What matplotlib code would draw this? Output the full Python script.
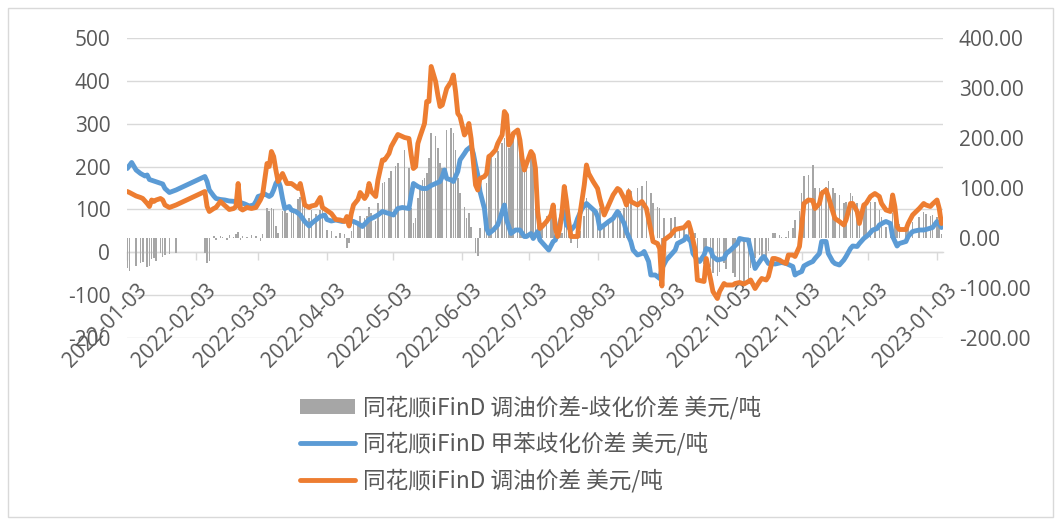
import matplotlib
matplotlib.use("Agg")
import matplotlib.pyplot as plt
import matplotlib.dates as mdates
from matplotlib.patches import Patch, Rectangle
from matplotlib.lines import Line2D
from matplotlib.ticker import FormatStrFormatter
import pandas as pd

plt.rcParams['font.family'] = ['Open Sans', 'Noto Sans CJK SC', 'DejaVu Sans']
plt.rcParams['axes.unicode_minus'] = False

# ---------------- data ----------------
blue_dates = [
    '2022-01-03', '2022-01-05', '2022-01-07', '2022-01-09', '2022-01-11', '2022-01-12', '2022-01-13',
    '2022-01-15', '2022-01-17', '2022-01-19', '2022-01-20', '2022-01-22', '2022-01-25',
    '2022-02-07', '2022-02-08', '2022-02-09', '2022-02-11', '2022-02-12', '2022-02-14', '2022-02-16',
    '2022-02-18', '2022-02-21', '2022-02-23', '2022-02-25', '2022-02-27',
    '2022-03-01', '2022-03-02', '2022-03-03', '2022-03-05', '2022-03-06', '2022-03-08', '2022-03-09',
    '2022-03-10', '2022-03-11', '2022-03-12', '2022-03-13', '2022-03-14', '2022-03-15', '2022-03-17',
    '2022-03-18', '2022-03-20', '2022-03-22', '2022-03-24', '2022-03-26', '2022-03-27', '2022-03-29',
    '2022-03-31',
    '2022-04-02', '2022-04-03', '2022-04-05', '2022-04-07', '2022-04-10', '2022-04-12', '2022-04-15',
    '2022-04-17', '2022-04-19', '2022-04-22', '2022-04-24', '2022-04-26', '2022-04-28',
    '2022-05-01', '2022-05-03', '2022-05-04', '2022-05-05', '2022-05-07', '2022-05-10', '2022-05-11',
    '2022-05-12', '2022-05-14', '2022-05-16', '2022-05-18', '2022-05-20', '2022-05-22', '2022-05-24',
    '2022-05-25', '2022-05-26', '2022-05-27', '2022-05-29', '2022-05-30',
    '2022-06-01', '2022-06-02', '2022-06-04', '2022-06-05', '2022-06-07', '2022-06-08', '2022-06-09',
    '2022-06-10', '2022-06-11', '2022-06-13', '2022-06-14', '2022-06-15', '2022-06-17', '2022-06-19',
    '2022-06-20', '2022-06-21', '2022-06-22', '2022-06-23', '2022-06-25', '2022-06-27', '2022-06-29',
    '2022-07-01', '2022-07-02', '2022-07-04', '2022-07-05', '2022-07-07', '2022-07-08', '2022-07-10',
    '2022-07-12', '2022-07-14', '2022-07-15', '2022-07-16', '2022-07-18', '2022-07-19', '2022-07-20',
    '2022-07-22', '2022-07-24', '2022-07-25', '2022-07-27', '2022-07-29', '2022-07-31',
    '2022-08-02', '2022-08-03', '2022-08-04', '2022-08-06', '2022-08-08', '2022-08-10', '2022-08-12',
    '2022-08-13', '2022-08-15', '2022-08-16', '2022-08-18', '2022-08-19', '2022-08-21', '2022-08-23',
    '2022-08-24', '2022-08-26', '2022-08-27', '2022-08-29', '2022-08-31',
    '2022-09-01', '2022-09-03', '2022-09-05', '2022-09-07', '2022-09-08', '2022-09-11', '2022-09-12',
    '2022-09-14', '2022-09-15', '2022-09-17', '2022-09-18', '2022-09-20', '2022-09-21', '2022-09-23',
    '2022-09-24', '2022-09-26', '2022-09-29', '2022-09-30',
    '2022-10-02', '2022-10-05', '2022-10-06', '2022-10-08', '2022-10-10', '2022-10-11', '2022-10-13',
    '2022-10-14', '2022-10-16', '2022-10-17', '2022-10-19', '2022-10-20', '2022-10-22', '2022-10-23',
    '2022-10-25', '2022-10-27', '2022-10-30', '2022-10-31',
    '2022-11-01', '2022-11-03', '2022-11-04', '2022-11-06', '2022-11-08', '2022-11-09', '2022-11-11',
    '2022-11-12', '2022-11-14', '2022-11-15', '2022-11-17', '2022-11-18', '2022-11-20', '2022-11-22',
    '2022-11-23', '2022-11-25', '2022-11-26', '2022-11-28', '2022-11-29',
    '2022-12-01', '2022-12-03', '2022-12-05', '2022-12-07', '2022-12-08', '2022-12-10', '2022-12-11',
    '2022-12-13', '2022-12-14', '2022-12-16', '2022-12-17', '2022-12-20', '2022-12-21', '2022-12-23',
    '2022-12-26', '2022-12-28', '2022-12-29',
    '2023-01-01', '2023-01-03', '2023-01-05',
]
blue_vals = [
    139, 151, 136, 129, 124, 126, 117, 114, 111, 108, 99, 91, 96,
    123, 113, 96, 84, 79, 77, 76, 74, 73, 71, 68, 64,
    66, 73, 83, 86, 88, 83, 86, 96, 109, 116, 103, 79, 59, 63, 56, 53, 46, 33, 24, 29, 36, 43,
    46, 37, 34, 36, 33, 36, 33, 29, 23, 37, 41, 46, 53,
    49, 46, 53, 59, 61, 59, 86, 109, 103, 99, 99, 105, 109, 113, 123, 136, 119, 116, 113,
    133, 156, 169, 176, 183, 169, 146, 126, 93, 59, 19, 9, 16, 26, 39, 53, 66, 36, 9, 16, 16,
    3, 3, 9, -1, 13, -4, -14, -24, -7, -4, 13, 46, 53, 26, 16, 26, 39, 59, 69, 61,
    53, 43, 19, 26, 33, 39, 53, 46, 29, 13, -7, -24, -34, -31, -27, -47, -74, -74, -81,
    -61, -44, -34, -24, -11, -4, 3, -7, -31, -44, -47, -34, -21, -24, -37, -44, -41, -31,
    -24, -11, -1, -3, -4, -24, -61, -54, -41, -37, -51, -51, -52, -51, -49, -51, -57, -74,
    -71, -67, -56, -51, -47, -41, -31, -7, -7, -31, -47, -51, -54, -44, -37, -21, -16, -17, -11,
    -1, 6, 16, 19, 26, 31, 33, 29, 3, -16, -11, -7, 3, 13, 16, 16, 17,
    21, 33, 21,
]

orange_dates = [
    '2022-01-03', '2022-01-04', '2022-01-07', '2022-01-09', '2022-01-10', '2022-01-12', '2022-01-13',
    '2022-01-14', '2022-01-15', '2022-01-16', '2022-01-18', '2022-01-19', '2022-01-20', '2022-01-22',
    '2022-01-25',
    '2022-02-07', '2022-02-08', '2022-02-09', '2022-02-11', '2022-02-12', '2022-02-14', '2022-02-15',
    '2022-02-17', '2022-02-18', '2022-02-20', '2022-02-21', '2022-02-22', '2022-02-23', '2022-02-24',
    '2022-02-26', '2022-02-28',
    '2022-03-02', '2022-03-04', '2022-03-05', '2022-03-07', '2022-03-08', '2022-03-09', '2022-03-10',
    '2022-03-11', '2022-03-12', '2022-03-14', '2022-03-15', '2022-03-16', '2022-03-18', '2022-03-19',
    '2022-03-21', '2022-03-22', '2022-03-23', '2022-03-24', '2022-03-26', '2022-03-27', '2022-03-29',
    '2022-03-31',
    '2022-04-01', '2022-04-03', '2022-04-05', '2022-04-07', '2022-04-09', '2022-04-11', '2022-04-12',
    '2022-04-13', '2022-04-14', '2022-04-15', '2022-04-17', '2022-04-18', '2022-04-20', '2022-04-21',
    '2022-04-22', '2022-04-23', '2022-04-25', '2022-04-26', '2022-04-28', '2022-04-29',
    '2022-05-01', '2022-05-02', '2022-05-04', '2022-05-05', '2022-05-08', '2022-05-10', '2022-05-11',
    '2022-05-12', '2022-05-13', '2022-05-14', '2022-05-15', '2022-05-16', '2022-05-17', '2022-05-18',
    '2022-05-19', '2022-05-20', '2022-05-22', '2022-05-23', '2022-05-24', '2022-05-25', '2022-05-27',
    '2022-05-29', '2022-05-30', '2022-05-31',
    '2022-06-01', '2022-06-02', '2022-06-04', '2022-06-05', '2022-06-06', '2022-06-07', '2022-06-09',
    '2022-06-10', '2022-06-11', '2022-06-13', '2022-06-14', '2022-06-15', '2022-06-16', '2022-06-18',
    '2022-06-19', '2022-06-21', '2022-06-22', '2022-06-23', '2022-06-24', '2022-06-25', '2022-06-26',
    '2022-06-28', '2022-06-29', '2022-06-30',
    '2022-07-01', '2022-07-02', '2022-07-04', '2022-07-05', '2022-07-06', '2022-07-07', '2022-07-08',
    '2022-07-09', '2022-07-11', '2022-07-13', '2022-07-14', '2022-07-15', '2022-07-16', '2022-07-17',
    '2022-07-18', '2022-07-19', '2022-07-20', '2022-07-21', '2022-07-22', '2022-07-25', '2022-07-26',
    '2022-07-28', '2022-07-29', '2022-07-30',
    '2022-08-01', '2022-08-03', '2022-08-04', '2022-08-06', '2022-08-08', '2022-08-10', '2022-08-12',
    '2022-08-13', '2022-08-15', '2022-08-16', '2022-08-17', '2022-08-18', '2022-08-21', '2022-08-23',
    '2022-08-25', '2022-08-27', '2022-08-28', '2022-08-30', '2022-08-31',
    '2022-09-01', '2022-09-02', '2022-09-05', '2022-09-07', '2022-09-09', '2022-09-11', '2022-09-13',
    '2022-09-14', '2022-09-16', '2022-09-17', '2022-09-20', '2022-09-21', '2022-09-23', '2022-09-24',
    '2022-09-26', '2022-09-27', '2022-09-29', '2022-09-30',
    '2022-10-03', '2022-10-04', '2022-10-06', '2022-10-08', '2022-10-10', '2022-10-11', '2022-10-13',
    '2022-10-15', '2022-10-16', '2022-10-18', '2022-10-19', '2022-10-21', '2022-10-22', '2022-10-24',
    '2022-10-25', '2022-10-27', '2022-10-28', '2022-10-30', '2022-10-31',
    '2022-11-02', '2022-11-03', '2022-11-04', '2022-11-06', '2022-11-08', '2022-11-09', '2022-11-11',
    '2022-11-12', '2022-11-14', '2022-11-15', '2022-11-17', '2022-11-18', '2022-11-20', '2022-11-22',
    '2022-11-23', '2022-11-25', '2022-11-26', '2022-11-28', '2022-11-29',
    '2022-12-01', '2022-12-02', '2022-12-04', '2022-12-06', '2022-12-08', '2022-12-09', '2022-12-11',
    '2022-12-13', '2022-12-14', '2022-12-15', '2022-12-16', '2022-12-17', '2022-12-20', '2022-12-21',
    '2022-12-23', '2022-12-26', '2022-12-28', '2022-12-29', '2022-12-31',
    '2023-01-01', '2023-01-03', '2023-01-04', '2023-01-05',
]
orange_vals = [
    93, 91, 84, 81, 79, 69, 63, 76, 73, 76, 79, 76, 66, 61, 66,
    93, 63, 53, 59, 61, 73, 69, 61, 57, 59, 63, 109, 59, 56, 61, 59,
    61, 76, 86, 149, 143, 173, 163, 136, 113, 129, 119, 109, 109, 106, 99, 109, 89, 66, 61, 64, 66, 81,
    61, 55, 49, 37, 36, 33, 43, 24, 49, 66, 77, 91, 79, 86, 109, 93, 83, 116, 156, 156,
    169, 183, 199, 207, 201, 199, 166, 139, 143, 189, 203, 216, 229, 273, 273, 343, 313, 286, 263,
    266, 299, 313, 326, 293,
    249, 243, 206, 213, 229, 199, 106, 96, 119, 123, 129, 163, 166, 176, 189, 206, 253, 246, 186,
    193, 209, 216, 196, 159,
    136, 149, 173, 166, 139, 53, 19, 23, 33, 46, 66, 19, 3, 19, 53, 103, 73, 33, 3, 3, 46, 106, 146, 129,
    113, 99, 79, 46, 66, 86, 99, 96, 79, 66, 93, 73, 66, 73, 59, 16, -7, -11, -21,
    -96, -4, 6, 17, 19, 21, 31, 16, -24, -84, -87, -41, -84, -107, -121, -107, -91, -94,
    -94, -91, -89, -92, -87, -84, -101, -87, -81, -84, -77, -41, -41, -44, -47, -51, -34, -34, -37,
    -17, 23, 69, 76, 75, 59, 69, 89, 96, 83, 53, 39, 33, 26, 36, 69, 69, 53, 29,
    66, 69, 83, 89, 83, 69, 56, 53, 86, 63, 23, 17, 17, 29, 46, 59, 69, 66, 63,
    68, 76, 59, 29,
]

spread_dates = orange_dates
spread_vals = [
    -60, -66, -55, -50, -48, -58, -55, -42, -40, -45, -30, -38, -34, -32, -30,
    -30, -50, -45, 4, -3, 5, 3, -4, 6, 2, 8, 12, -3, 5, 3, 6,
    4, -5, 8, 60, 55, 60, 58, 25, 10, 55, 60, 50, 62, 55, 78, 82, 70, 66, 40, 56, 48, 56,
    62, 16, 14, 5, 10, 8, -20, -10, 15, 30, 30, 45, 40, 45, 62, 50, 35, 70, 110, 113,
    120, 135, 145, 150, 176, 140, 60, 30, 40, 80, 100, 116, 120, 130, 160, 210, 205, 180, 150,
    140, 216, 220, 210, 176,
    120, 90, 62, 40, 50, 22, -30, -35, 20, 60, 110, 155, 170, 160, 175, 190, 200, 236, 180,
    190, 200, 205, 180, 172,
    140, 145, 165, 160, 130, 50, 20, 25, 45, 60, 55, 25, 10, 8, 10, 50, 45, 15, -10, -20, 15, 45, 80, 68,
    60, 55, 60, 25, 35, 45, 45, 55, 60, 65, 100, 95, 100, 104, 115, 90, 70, 63, 60,
    -15, 40, 40, 42, 25, 25, 28, 25, 10, -40, -52, -20, -58, -70, -75, -68, -50, -62,
    -70, -78, -85, -88, -82, -60, -40, -33, -40, -47, -26, 10, 11, 7, 2, 2, 15, 20, 37,
    54, 90, 125, 127, 146, 100, 100, 96, 103, 114, 100, 90, 87, 70, 73, 90, 85, 70, 40,
    67, 65, 72, 73, 57, 43, 23, 24, 50, 60, 39, 28, 24, 26, 33, 43, 53, 49, 45,
    47, 43, 35, 8,
]

tick_labels = ['2022-01-03', '2022-02-03', '2022-03-03', '2022-04-03', '2022-05-03', '2022-06-03',
               '2022-07-03', '2022-08-03', '2022-09-03', '2022-10-03', '2022-11-03', '2022-12-03',
               '2023-01-03']
left_ticks = [-200, -100, 0, 100, 200, 300, 400, 500]
right_ticks = [-200, -100, 0, 100, 200, 300, 400]

legend_labels = ['同花顺iFinD 调油价差-歧化价差 美元/吨',
                 '同花顺iFinD 甲苯歧化价差 美元/吨',
                 '同花顺iFinD 调油价差 美元/吨']

assert len(blue_dates) == len(blue_vals)
assert len(orange_dates) == len(orange_vals) == len(spread_vals)

# ---------------- figure ----------------
W, H = 1061, 523
fig = plt.figure(figsize=(W / 100, H / 100), dpi=100)
fig.patches.append(Rectangle((8 / W, 6 / H), (1053 - 8) / W, (517 - 8) / H, transform=fig.transFigure,
                             fill=False, edgecolor='#d9d9d9', lw=1.0))

ax = fig.add_axes([127 / W, 1 - 338 / H, (943 - 127) / W, 300 / H])
ax2 = ax.twinx()

bx = mdates.date2num(pd.to_datetime(blue_dates))
ox = mdates.date2num(pd.to_datetime(orange_dates))
sx = mdates.date2num(pd.to_datetime(spread_dates))
tx = mdates.date2num(pd.to_datetime(tick_labels))

GREY_TXT = '#595959'
GRID = '#d9d9d9'

ax2.bar(sx, spread_vals, width=0.7, color='#a6a6a6', linewidth=0, zorder=1)
ax2.plot(bx, blue_vals, color='#5b9bd5', lw=3.5, solid_joinstyle='round', solid_capstyle='round', zorder=2)
ax2.plot(ox, orange_vals, color='#ed7d31', lw=3.5, solid_joinstyle='round', solid_capstyle='round', zorder=3)

ax.set_ylim(-200, 500)
ax2.set_ylim(-200, 400)
ax.set_xlim(tx[0] - 0.1, tx[-1] + 2.7)

ax.set_yticks(left_ticks)
ax2.set_yticks(right_ticks)
ax2.yaxis.set_major_formatter(FormatStrFormatter('%.2f'))
ax.yaxis.grid(True, color=GRID, lw=1.0)
ax.set_axisbelow(True)

for a in (ax, ax2):
    for s in a.spines.values():
        s.set_visible(False)

ax.spines['bottom'].set_visible(True)
ax.spines['bottom'].set_position(('data', 0))
ax.spines['bottom'].set_color(GRID)
ax.spines['bottom'].set_linewidth(1.0)
ax.set_xticks(tx)
ax.tick_params(axis='x', direction='out', length=6, width=1.0, color=GRID, labelbottom=False)
ax.tick_params(axis='y', length=0, pad=12, labelsize=15, labelcolor=GREY_TXT)
ax2.tick_params(axis='y', length=0, pad=11.5, labelsize=15, labelcolor=GREY_TXT)

for d, lbl in zip(tx, tick_labels):
    ax.annotate(lbl, xy=(d, 0), xycoords='data', xytext=(6.5, -20), textcoords='offset points',
                rotation=45, ha='right', va='top', rotation_mode='anchor', fontsize=15,
                color=GREY_TXT, annotation_clip=False)

handles = [Patch(facecolor='#a6a6a6', edgecolor='none'),
           Line2D([], [], color='#5b9bd5', lw=3.5, solid_capstyle='round'),
           Line2D([], [], color='#ed7d31', lw=3.5, solid_capstyle='round')]
leg = fig.legend(handles, legend_labels, loc='upper left', bbox_to_anchor=(300 / W, 1 - 396 / H),
                 frameon=False, handlelength=2.43, handleheight=0.62, handletextpad=0.36,
                 labelspacing=0.55, borderpad=0, borderaxespad=0,
                 prop={'family': ['Noto Sans CJK SC', 'DejaVu Sans'], 'size': 16.3})
for t in leg.get_texts():
    t.set_color(GREY_TXT)

fig.savefig('out.png', dpi=100)
